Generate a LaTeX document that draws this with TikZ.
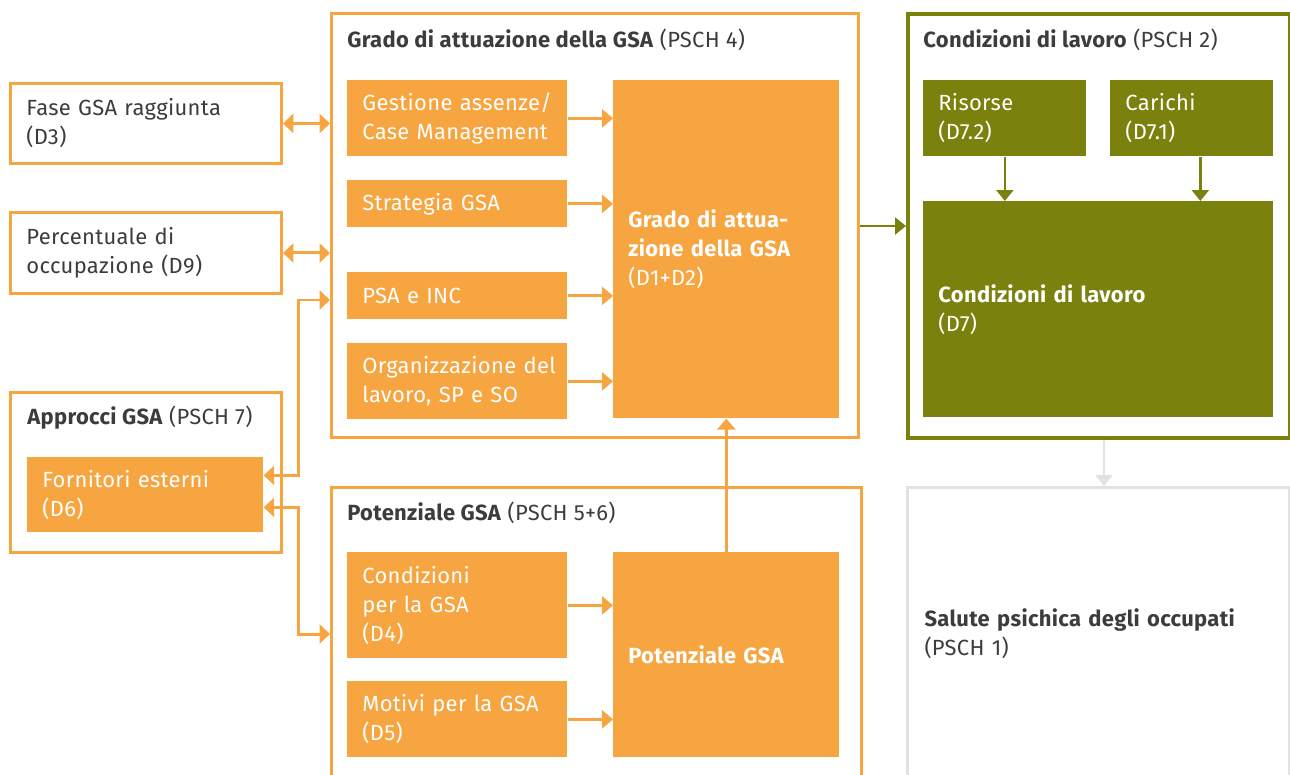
\documentclass[tikz,border=0pt]{standalone}
\usepackage{fontspec}
\setmainfont{Fira Sans}[LetterSpace=1.5]
\usepackage{tikz}
\usetikzlibrary{positioning,arrows.meta}

\definecolor{gsaorange}{HTML}{F7A540}
\definecolor{gsagreen}{HTML}{7A810C}
\definecolor{gsagrey}{HTML}{E2E2E2}
\definecolor{gsatext}{HTML}{3C3C3C}

\begin{document}
\begin{tikzpicture}[
x=0.02cm, y=-0.02cm,
font=\fontsize{12.5}{16.5}\selectfont,
execute at begin node={\hyphenpenalty=10000\exhyphenpenalty=10000},
frame/.style={draw=#1, line width=1.7pt, inner sep=0pt, anchor=north west},
outbox/.style={draw=gsaorange, line width=1.7pt, inner xsep=0.32cm, inner ysep=0pt, anchor=north west, align=left, text=gsatext},
fillbox/.style={fill=#1, text=white, inner xsep=0.3cm, inner ysep=0pt, anchor=north west, align=left},
title/.style={anchor=west, inner sep=0pt, text=gsatext},
link/.style={-{Triangle[length=0.22cm, width=0.36cm]}, line width=1.7pt, gsaorange},
biLink/.style={{Triangle[length=0.21cm, width=0.38cm]}-{Triangle[length=0.21cm, width=0.38cm]}, line width=1.7pt, gsaorange},
greenLink/.style={-{Triangle[length=0.22cm, width=0.34cm]}, line width=1.4pt, gsagreen},
greyLink/.style={-{Triangle[length=0.22cm, width=0.34cm]}, line width=1.4pt, gsagrey}
]
\useasboundingbox (0,0) rectangle (1290,774);

% left column
\node[outbox, text width=4.78cm, minimum height=1.6cm] (fase) at (9,82) {Fase GSA raggiunta\\(D3)};
\node[outbox, text width=4.78cm, minimum height=1.62cm] (perc) at (9,211) {Percentuale di\\occupazione (D9)};
\node[frame=gsaorange, minimum width=5.42cm, minimum height=3.2cm] (approcci) at (9,391) {};
\node[title] (approccititle) at (27,418) {\textbf{Approcci GSA} (PSCH 7)};
\node[fillbox=gsaorange, text width=4.12cm, minimum height=1.5cm] (fornitori) at (27,457) {Fornitori esterni\\(D6)};

% grado di attuazione
\node[frame=gsaorange, minimum width=10.54cm, minimum height=8.48cm] (grado) at (330,12) {};
\node[title] (gradotitle) at (347,40) {\textbf{Grado di attuazione della GSA} (PSCH 4)};
\node[fillbox=gsaorange, text width=3.8cm, minimum height=1.52cm] (gestione) at (347,80) {Gestione assenze/\\Case Management};
\node[fillbox=gsaorange, text width=3.8cm, minimum height=0.94cm] (strategia) at (347,180) {Strategia GSA};
\node[fillbox=gsaorange, text width=3.8cm, minimum height=0.94cm] (psa) at (347,272) {PSA e INC};
\node[fillbox=gsaorange, text width=3.8cm, minimum height=1.52cm] (organizz) at (347,343) {\mbox{Organizzazione del}\\lavoro, SP e SO};
\node[fillbox=gsaorange, text width=3.92cm, minimum height=6.76cm] (gradobig) at (613,80) {\textbf{Grado di attua-}\\\textbf{zione della GSA}\\(D1+D2)};

% potenziale
\node[frame=gsaorange, minimum width=10.6cm, minimum height=6cm] (potenziale) at (330,486) {};
\node[title] (potenzialetitle) at (347,513) {\textbf{Potenziale GSA} (PSCH 5+6)};
\node[fillbox=gsaorange, text width=3.8cm, minimum height=2.12cm] (condizioni) at (347,552) {Condizioni\\per la GSA\\(D4)};
\node[fillbox=gsaorange, text width=3.8cm, minimum height=1.52cm] (motivi) at (347,681) {Motivi per la GSA\\(D5)};
\node[fillbox=gsaorange, text width=3.92cm, minimum height=4.1cm] (potbig) at (613,552) {\textbf{Potenziale GSA}};

% condizioni di lavoro
\node[frame=gsagreen, line width=2.3pt, minimum width=7.64cm, minimum height=8.48cm] (lavoro) at (906,12) {};
\node[title] (lavorotitle) at (923,40) {\textbf{Condizioni di lavoro} (PSCH 2)};
\node[fillbox=gsagreen, text width=2.66cm, minimum height=1.52cm] (risorse) at (923,80) {Risorse\\(D7.2)};
\node[fillbox=gsagreen, text width=2.66cm, minimum height=1.52cm] (carichi) at (1110,80) {Carichi\\(D7.1)};
\node[fillbox=gsagreen, text width=6.4cm, minimum height=4.32cm] (lavorobig) at (923,201) {\textbf{Condizioni di lavoro}\\(D7)};

% salute
\node[frame=gsagrey, inner xsep=0.34cm, align=left, text=gsatext, text width=6.96cm, minimum height=5.84cm] (salute) at (906,486) {\textbf{Salute psichica degli occupati}\\(PSCH 1)};
\coordinate (salutetop) at (1104,486);

% connectors
\draw[biLink] (fase.east) -- (fase.east -| grado.west);
\draw[biLink] (perc.east) -- (perc.east -| grado.west);
\draw[biLink] ([yshift=0.39cm]fornitori.east) -- ++(35,0) |- (grado.west |- 0,300);
\draw[biLink] ([yshift=-0.25cm]fornitori.east) -- ++(35,0) |- (potenziale.west |- 0,634);
\foreach \src/\dst in {gestione/gradobig, strategia/gradobig, psa/gradobig, organizz/gradobig, condizioni/potbig, motivi/potbig}
  \draw[link] (\src.east) -- (\src.east -| \dst.west);
\draw[link] (potbig.north) -- (gradobig.south);
\draw[greenLink] (grado.east |- lavoro.west) -- (lavoro.west);
\draw[greenLink] (risorse.south) -- (risorse.south |- lavorobig.north);
\draw[greenLink] ([xshift=0.17cm]carichi.south) -- ([xshift=0.17cm]carichi.south |- lavorobig.north);
\draw[greyLink] (lavoro.south -| salutetop) -- (salutetop);
\end{tikzpicture}
\end{document}
